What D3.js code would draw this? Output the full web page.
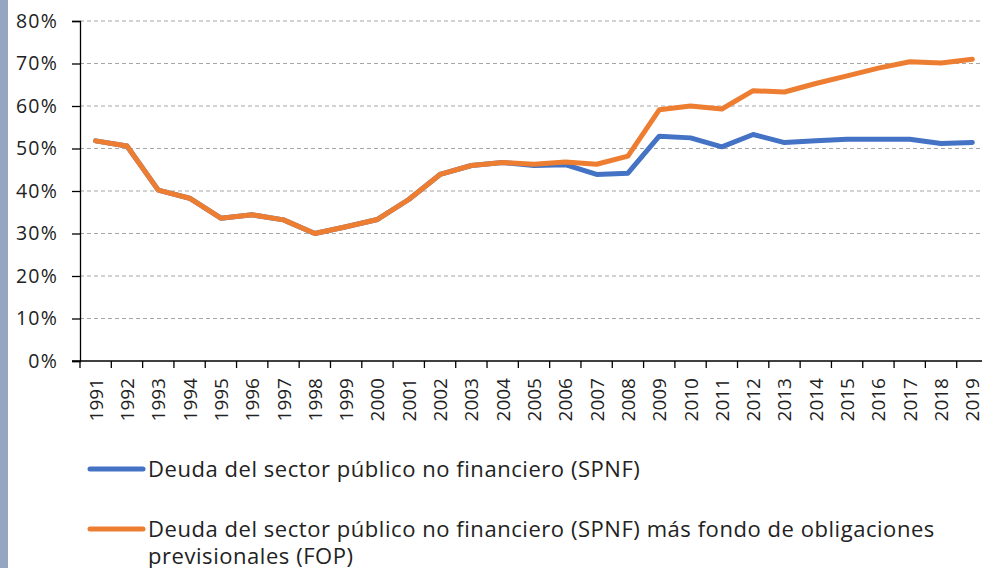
<!DOCTYPE html>
<html>
<head>
<meta charset="utf-8">
<script src="https://cdn.jsdelivr.net/npm/d3@7"></script>
<style>
  body { margin: 0; background: #fff; }
  svg { display: block; font-family: "Open Sans", "Noto Sans", sans-serif; }
</style>
</head>
<body>
<svg id="chart" width="982" height="568"></svg>
<script>
"use strict";

// data (% of GDP)
const years = d3.range(1991, 2020).map(String);
const spnf = [51.8, 50.6, 40.2, 38.3, 33.6, 34.4, 33.2, 30.0, 31.6, 33.3,
  38.0, 43.9, 46.0, 46.7, 46.0, 46.2, 43.9, 44.2, 52.9, 52.5,
  50.4, 53.3, 51.4, 51.8, 52.2, 52.2, 52.2, 51.2, 51.4];
const spnfFop = [51.8, 50.6, 40.2, 38.3, 33.6, 34.4, 33.2, 30.0, 31.6, 33.3,
  38.0, 43.9, 46.0, 46.7, 46.3, 46.8, 46.3, 48.2, 59.1, 60.0,
  59.3, 63.6, 63.3, 65.3, 67.1, 68.9, 70.4, 70.1, 71.0];
const yTicks = [0, 10, 20, 30, 40, 50, 60, 70, 80];
const seriesNames = [
  "Deuda del sector público no financiero (SPNF)",
  "Deuda del sector público no financiero (SPNF) más fondo de obligaciones",
  "previsionales (FOP)"
];
const seriesColors = ["#4472C4", "#ED7D31"];

const svg = d3.select("#chart");

// side strip of the page
svg.append("rect").attr("x", 0).attr("y", 0).attr("width", 8).attr("height", 568)
  .attr("fill", "#95A6C0");

const x = d3.scaleBand().domain(years).range([80, 988]);
const y = d3.scaleLinear().domain([0, 80]).range([361, 21]);

// gridlines
svg.append("g")
  .selectAll("line")
  .data(yTicks.slice(1))
  .join("line")
  .attr("x1", 80).attr("x2", 982)
  .attr("y1", (d) => y(d)).attr("y2", (d) => y(d))
  .attr("stroke", "#A6A6A6")
  .attr("stroke-width", 1.2)
  .attr("stroke-dasharray", "4,3");

// y axis
const yAxis = svg.append("g")
  .attr("transform", "translate(80,0)")
  .call(d3.axisLeft(y).tickValues(yTicks).tickFormat((d) => d + "%").tickSize(8).tickPadding(14))
  .attr("font-family", null)
  .attr("font-size", null);
yAxis.select(".domain").attr("stroke", "#000").attr("stroke-width", 1.3);
yAxis.selectAll(".tick line").attr("stroke", "#000").attr("stroke-width", 1.3);
yAxis.selectAll("text")
  .attr("font-size", 19.5)
  .attr("letter-spacing", 1.2)
  .attr("fill", "#222");

// x axis, ticks between categories
const xAxis = svg.append("g").attr("transform", "translate(0,361)");
xAxis.append("line")
  .attr("x1", 72).attr("x2", 988)
  .attr("stroke", "#000").attr("stroke-width", 1.3);
xAxis.selectAll(".tk")
  .data(years)
  .join("line")
  .attr("class", "tk")
  .attr("x1", (d) => x(d)).attr("x2", (d) => x(d))
  .attr("y1", 0).attr("y2", 7)
  .attr("stroke", "#000").attr("stroke-width", 1.3);
xAxis.selectAll("text")
  .data(years)
  .join("text")
  .attr("transform", (d) => `translate(${x(d) + x.bandwidth() / 2 + 7},17) rotate(-90)`)
  .attr("text-anchor", "end")
  .attr("font-size", 19)
  .attr("fill", "#222")
  .text((d) => d);

// lines
const line = d3.line()
  .x((d, i) => x(years[i]) + x.bandwidth() / 2)
  .y((d) => y(d));

[spnf, spnfFop].forEach((s, i) => {
  svg.append("path")
    .datum(s)
    .attr("fill", "none")
    .attr("stroke", seriesColors[i])
    .attr("stroke-width", 5)
    .attr("stroke-linejoin", "round")
    .attr("stroke-linecap", "round")
    .attr("d", line);
});

// legend
const legend = svg.append("g")
  .attr("font-size", 22)
  .attr("letter-spacing", 0.55)
  .attr("fill", "#222");
legend.append("line")
  .attr("x1", 90).attr("x2", 143).attr("y1", 469).attr("y2", 469)
  .attr("stroke", seriesColors[0]).attr("stroke-width", 5).attr("stroke-linecap", "round");
legend.append("text")
  .attr("x", 148).attr("y", 477)
  .text(seriesNames[0]);

legend.append("line")
  .attr("x1", 90).attr("x2", 143).attr("y1", 529).attr("y2", 529)
  .attr("stroke", seriesColors[1]).attr("stroke-width", 5).attr("stroke-linecap", "round");
const t2 = legend.append("text");
t2.append("tspan").attr("x", 148).attr("y", 536.5).text(seriesNames[1]);
t2.append("tspan").attr("x", 148).attr("y", 564).text(seriesNames[2]);
</script>
</body>
</html>
